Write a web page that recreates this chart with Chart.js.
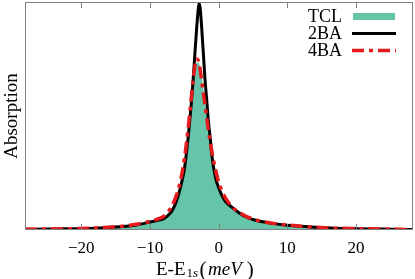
<!DOCTYPE html>
<html>
<head>
<meta charset="utf-8">
<script src="https://cdn.jsdelivr.net/npm/chart.js@4"></script>
<style>
  body { margin: 0; background: #fff; }
  canvas { display: block; }
</style>
</head>
<body>
<canvas id="myChart" width="415" height="279"></canvas>
<script>
// energy grid (meV)
const energies = [-28.2, -25, -22, -20, -18, -16, -14, -12, -10, -9, -8, -7, -6.5, -6, -5.5, -5, -4.5, -4, -3.75, -3.5, -3.25, -3, -2.85, -2.7, -2.5, -2.25, -2, -1.75, -1.5, -1.25, -1, -0.5, 0, 0.5, 1, 2, 3, 4, 5, 6, 8, 10, 12, 14, 17, 20, 24, 28.3];

const tclValues = [0.003, 0.004, 0.005, 0.007, 0.009, 0.012, 0.017, 0.025, 0.036, 0.045, 0.056, 0.088, 0.115, 0.155, 0.21, 0.295, 0.415, 0.56, 0.64, 0.70, 0.73, 0.735, 0.73, 0.715, 0.68, 0.625, 0.565, 0.51, 0.455, 0.395, 0.345, 0.26, 0.2, 0.165, 0.135, 0.099, 0.077, 0.06, 0.048, 0.04, 0.029, 0.022, 0.016, 0.012, 0.008, 0.006, 0.004, 0.002];

const ba2Values = [0.003, 0.004, 0.005, 0.006, 0.008, 0.011, 0.015, 0.022, 0.035, 0.042, 0.05, 0.075, 0.1, 0.14, 0.195, 0.265, 0.39, 0.55, 0.645, 0.755, 0.865, 0.96, 0.995, 0.975, 0.9, 0.785, 0.665, 0.575, 0.48, 0.41, 0.33, 0.235, 0.185, 0.15, 0.125, 0.098, 0.075, 0.057, 0.046, 0.038, 0.028, 0.021, 0.016, 0.012, 0.008, 0.006, 0.004, 0.002];

const ba4Values = [0.003, 0.004, 0.005, 0.007, 0.009, 0.012, 0.017, 0.025, 0.038, 0.047, 0.06, 0.095, 0.125, 0.165, 0.225, 0.31, 0.43, 0.575, 0.65, 0.71, 0.75, 0.745, 0.73, 0.705, 0.66, 0.605, 0.55, 0.495, 0.44, 0.39, 0.345, 0.27, 0.21, 0.17, 0.14, 0.10, 0.077, 0.06, 0.048, 0.04, 0.029, 0.022, 0.016, 0.012, 0.008, 0.006, 0.004, 0.002];

const xTickValues = [-20, -10, 0, 10, 20];

const frameColor = '#808080';
const serif = 'Liberation Serif';

const toPoints = (values) => values.map((v, i) => ({ x: energies[i], y: v }));

const data = {
    datasets: [{
        label: 'TCL',
        data: toPoints(tclValues),
        backgroundColor: '#66c4a9',
        borderWidth: 0,
        fill: 'origin',
        order: 3
    }, {
        label: '2BA',
        data: toPoints(ba2Values),
        borderColor: '#000000',
        borderWidth: 3,
        fill: false,
        order: 2
    }, {
        label: '4BA',
        data: toPoints(ba4Values),
        borderColor: '#e41a1c',
        borderWidth: 3.5,
        borderDash: [12, 5, 4, 5],
        fill: false,
        order: 1
    }]
};

// frame, inward ticks, legend and x title (gnuplot look)
const decorations = {
    id: 'decorations',
    afterDraw(chart) {
        const c = chart.ctx;
        const area = chart.chartArea;
        const xScale = chart.scales.x;

        c.save();
        c.strokeStyle = frameColor;
        c.lineWidth = 1;
        c.strokeRect(area.left + 0.5, area.top + 0.5, area.right - area.left - 1, area.bottom - area.top - 1);
        xTickValues.forEach(v => {
            const px = Math.round(xScale.getPixelForValue(v)) + 0.5;
            c.beginPath();
            c.moveTo(px, area.bottom);
            c.lineTo(px, area.bottom - 6);
            c.moveTo(px, area.top);
            c.lineTo(px, area.top + 6);
            c.stroke();
        });

        // legend
        const rows = [16, 33, 50];
        c.font = '18px "' + serif + '"';
        c.fillStyle = '#000';
        c.textAlign = 'right';
        c.textBaseline = 'middle';
        chart.data.datasets.forEach((ds, i) => {
            const y = rows[i];
            c.fillText(ds.label, 342, y + 1);
            if (ds.fill) {
                c.fillStyle = ds.backgroundColor;
                c.fillRect(353, y - 3, 42, 7);
                c.fillStyle = '#000';
            } else {
                c.strokeStyle = ds.borderColor;
                c.lineWidth = ds.borderWidth;
                c.setLineDash(ds.borderDash || []);
                c.beginPath();
                c.moveTo(352, y + 0.5);
                c.lineTo(396, y + 0.5);
                c.stroke();
                c.setLineDash([]);
            }
        });

        // x axis title: E-E_{1s}(meV), pieces laid out one after another
        const base = 275;
        const pieces = [
            { t: 'E-E', f: '19px', dy: 0, gap: 1 },
            { t: '1', f: '13px', dy: 2, gap: 0 },
            { t: 's', f: 'italic 13px', dy: 2, gap: 1.5 },
            { t: '(', f: '21px', dy: 1, gap: 1.5 },
            { t: 'meV', f: 'italic 19px', dy: 0, gap: 5 },
            { t: ')', f: '21px', dy: 1, gap: 0 }
        ];
        c.textAlign = 'left';
        c.textBaseline = 'alphabetic';
        c.fillStyle = '#000';
        let x = 156;
        pieces.forEach(p => {
            c.font = p.f + ' "' + serif + '"';
            c.fillText(p.t, x, base + p.dy);
            x += c.measureText(p.t).width + p.gap;
        });
        c.restore();
    }
};

const config = {
    type: 'line',
    data: data,
    options: {
        responsive: false,
        animation: false,
        devicePixelRatio: 1,
        layout: { padding: { top: 2, right: 2, left: 0, bottom: 0 } },
        elements: {
            point: { radius: 0 },
            line: { cubicInterpolationMode: 'monotone' }
        },
        plugins: {
            legend: { display: false },
            tooltip: { enabled: false }
        },
        scales: {
            x: {
                type: 'linear',
                min: -28.2,
                max: 28.3,
                afterBuildTicks: (scale) => {
                    scale.ticks = xTickValues.map(v => ({ value: v }));
                },
                afterFit: (scale) => { scale.height = 49; },
                grid: { display: false, drawTicks: false },
                border: { display: false },
                ticks: {
                    padding: 8,
                    maxRotation: 0,
                    autoSkip: false,
                    color: '#000',
                    font: { family: serif, size: 17 },
                    callback: (v) => v < 0 ? '\u2212' + Math.abs(v) : String(v)
                }
            },
            y: {
                min: 0,
                max: 1,
                afterFit: (scale) => { scale.width = 25; },
                grid: { display: false, drawTicks: false },
                border: { display: false },
                ticks: { display: false },
                title: {
                    display: true,
                    text: 'Absorption',
                    color: '#000',
                    padding: { top: 1, bottom: 0 },
                    font: { family: serif, size: 19 }
                }
            }
        }
    },
    plugins: [decorations]
};

const myChart = new Chart(document.getElementById('myChart').getContext('2d'), config);
</script>
</body>
</html>
